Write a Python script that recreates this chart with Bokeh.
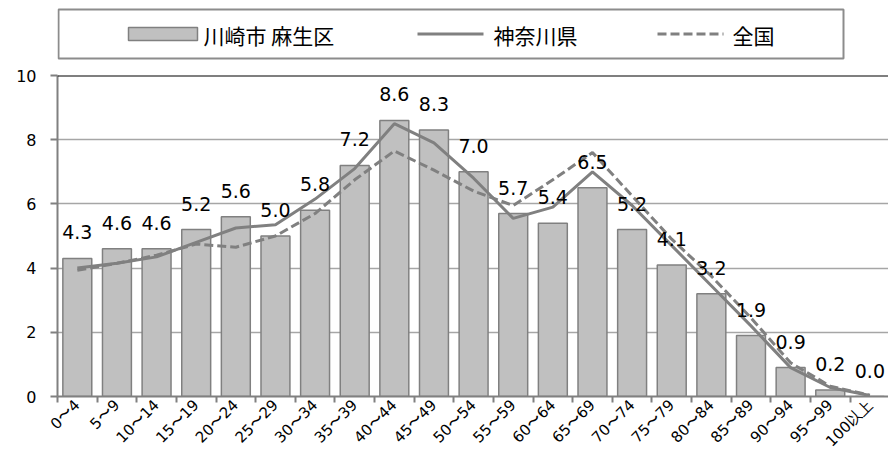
from bokeh.plotting import figure
from bokeh.layouts import column
from bokeh.models import Range1d, FixedTicker, ColumnDataSource, LabelSet, Span
from bokeh.core.properties import value
from bokeh.embed import file_html
from bokeh.resources import INLINE

categories = ["0〜4", "5〜9", "10〜14", "15〜19", "20〜24", "25〜29", "30〜34", "35〜39",
              "40〜44", "45〜49", "50〜54", "55〜59", "60〜64", "65〜69", "70〜74", "75〜79",
              "80〜84", "85〜89", "90〜94", "95〜99", "100以上"]
asao = [4.3, 4.6, 4.6, 5.2, 5.6, 5.0, 5.8, 7.2, 8.6, 8.3, 7.0, 5.7, 5.4, 6.5, 5.2, 4.1,
        3.2, 1.9, 0.9, 0.2, 0.0]
kanagawa = [4.0, 4.15, 4.35, 4.8, 5.25, 5.35, 6.15, 7.1, 8.5, 7.9, 6.8, 5.55, 5.9, 7.0,
            5.95, 4.7, 3.45, 2.2, 0.9, 0.28, 0.03]
national = [3.93, 4.15, 4.4, 4.75, 4.65, 5.0, 5.7, 6.75, 7.65, 7.05, 6.4, 5.95, 6.75, 7.6,
            6.25, 4.9, 3.75, 2.45, 1.05, 0.32, 0.04]
series_names = ["川崎市 麻生区", "神奈川県", "全国"]
y_ticks = [0, 2, 4, 6, 8, 10]

GRAY = "#808080"
FONT = "DejaVu Sans"
CJK = "Noto Sans CJK JP"

n = len(categories)
centers = [i + 0.5 for i in range(n)]
bounds = list(range(n))

W = 888
LEFT = 57
LG_H = 67

# ---------- legend strip (data units = page pixels) ----------
lg = figure(width=W, height=LG_H, x_range=Range1d(LEFT, W), y_range=Range1d(LG_H, 0),
            output_backend="svg", toolbar_location=None, x_axis_type=None, y_axis_type=None,
            min_border_left=LEFT, min_border_right=0, min_border_top=0, min_border_bottom=0)
lg.outline_line_color = None
lg.xgrid.visible = False
lg.ygrid.visible = False
lg.quad(left=[58], right=[843], top=[9], bottom=[58], fill_color=None,
        line_color="#8c8c8c", line_width=2)
lg.quad(left=[128], right=[197], top=[27], bottom=[40], fill_color="#c0c0c0",
        line_color=GRAY, line_width=1.5)
lg.line(x=[417, 483], y=[33.5, 33.5], line_color=GRAY, line_width=3)
lg.line(x=[657, 723], y=[33.5, 33.5], line_color=GRAY, line_width=3, line_dash="9 4")
lg.text(x=[203, 493, 732], y=[34, 34, 34], text=series_names, text_font=value(CJK),
        text_font_size="21px", text_baseline="middle", text_align="left", text_color="black")

# ---------- main chart ----------
p = figure(width=W, height=459 - LG_H, x_range=Range1d(0, 20.97), y_range=Range1d(0, 10),
           output_backend="svg", toolbar_location=None,
           min_border_left=LEFT, min_border_right=0, min_border_top=75 - LG_H,
           min_border_bottom=62)
p.outline_line_color = None
p.xgrid.visible = False
p.ygrid.ticker = FixedTicker(ticks=[2, 4, 6, 8])
p.ygrid.grid_line_color = "#a6a6a6"
p.ygrid.grid_line_width = 1.5
p.add_layout(Span(location=10, dimension="width", line_color="black", line_width=2))

p.vbar(x=centers, top=asao, width=0.73, fill_color="#c0c0c0", line_color=GRAY, line_width=1.5)
p.line(x=centers, y=kanagawa, line_color=GRAY, line_width=3)
p.line(x=centers, y=national, line_color=GRAY, line_width=3, line_dash="9 4")

src = ColumnDataSource(dict(x=centers, y=asao, t=[f"{v:.1f}" for v in asao]))
p.add_layout(LabelSet(x="x", y="y", text="t", source=src, y_offset=19,
                      text_align="center", text_baseline="alphabetic",
                      text_font=value(FONT), text_font_size="19px", text_color="black"))

xa = p.xaxis[0]
xa.ticker = FixedTicker(ticks=centers, minor_ticks=bounds)
xa.major_label_overrides = {c: lab for c, lab in zip(centers, categories)}
xa.major_tick_line_color = None
xa.major_tick_out = 0
xa.major_tick_in = 0
xa.minor_tick_line_color = GRAY
xa.minor_tick_line_width = 2
xa.minor_tick_out = 6
xa.minor_tick_in = 0
xa.axis_line_color = GRAY
xa.axis_line_width = 2
xa.major_label_orientation = 0.785398
xa.major_label_standoff = 0
xa.major_label_text_font = FONT
xa.major_label_text_font_size = "15px"
xa.major_label_text_color = "black"

ya = p.yaxis[0]
ya.ticker = FixedTicker(ticks=y_ticks)
ya.minor_tick_line_color = None
ya.major_tick_line_color = GRAY
ya.major_tick_line_width = 2
ya.major_tick_out = 7
ya.major_tick_in = 0
ya.axis_line_color = GRAY
ya.axis_line_width = 2
ya.major_label_standoff = 14
ya.major_label_text_font = FONT
ya.major_label_text_font_size = "16px"
ya.major_label_text_color = "black"

layout = column(lg, p, spacing=0)
open("out.html", "w").write(file_html(layout, INLINE))
